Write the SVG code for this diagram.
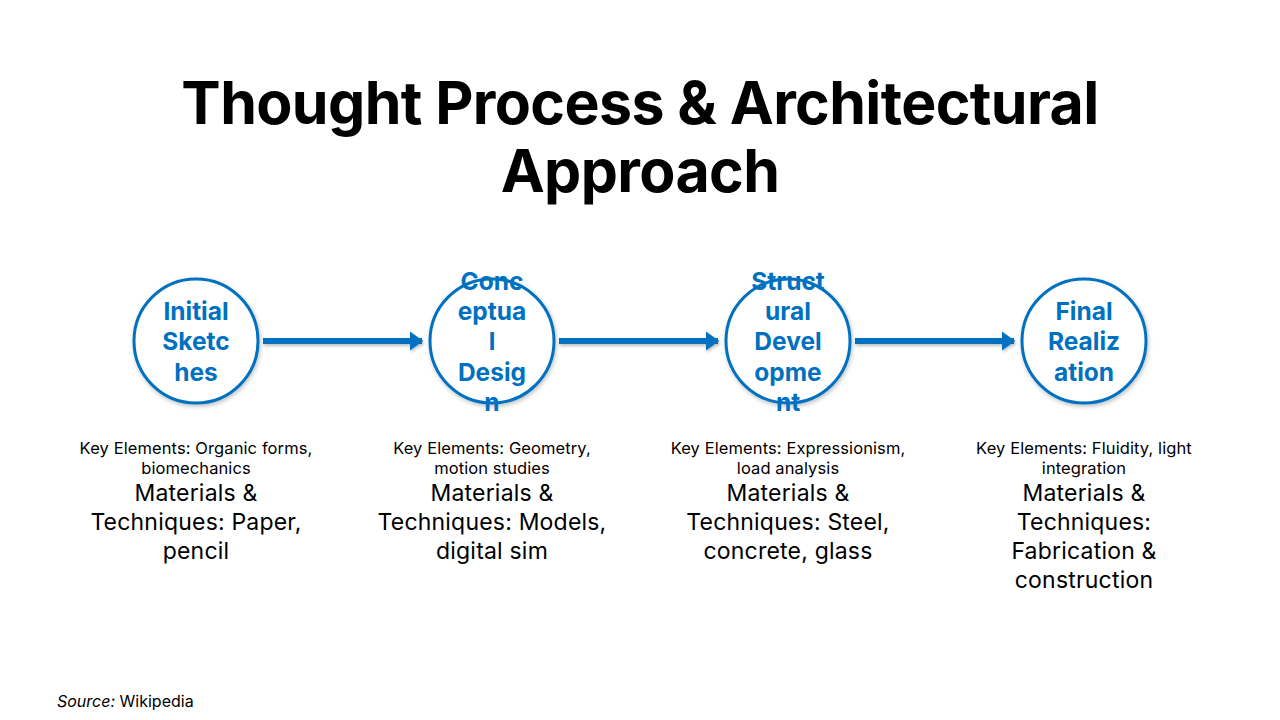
<svg xmlns="http://www.w3.org/2000/svg" width="1280" height="720" viewBox="0 0 1280 720">
<defs>
<style>
.title{font-family:Inter,"Liberation Sans",sans-serif;font-weight:700;font-size:59px;fill:#000;text-anchor:middle;letter-spacing:-0.6px}
.node circle{fill:#fff;stroke:#0070C0;stroke-width:3}
.nt{font-family:Inter,"Liberation Sans",sans-serif;font-weight:700;font-size:24.5px;fill:#0070C0;text-anchor:middle}
.ke{font-family:Inter,"Liberation Sans",sans-serif;font-size:16.5px;fill:#000;text-anchor:middle;letter-spacing:0.1px}
.mt{font-family:Inter,"Liberation Sans",sans-serif;font-size:23px;fill:#000;text-anchor:middle;letter-spacing:0.2px}
.src{font-family:Inter,"Liberation Sans",sans-serif;font-size:16px;fill:#000}
.conn line{stroke:#0070C0;stroke-width:6}
</style>
<marker id="ah" markerWidth="4" markerHeight="4" refX="2" refY="2" orient="auto" markerUnits="strokeWidth">
<path d="M0,0.4 L2.2,2 L0,3.6 Z" fill="#0070C0"/>
</marker>
<filter id="sh" x="-20%" y="-20%" width="140%" height="150%">
<feDropShadow dx="1" dy="2" stdDeviation="2" flood-color="#000" flood-opacity="0.25"/>
</filter>
<filter id="shl" filterUnits="userSpaceOnUse" x="0" y="300" width="1280" height="90">
<feDropShadow dx="1" dy="2" stdDeviation="1.5" flood-color="#000" flood-opacity="0.25"/>
</filter>
</defs>
<rect width="1280" height="720" fill="#fff"/>
<g id="title">
<text class="title" x="640" y="124">Thought Process &amp; Architectural</text>
<text class="title" x="640" y="192">Approach</text>
</g>
<g id="connectors" class="conn" filter="url(#shl)">
<line x1="263" y1="341" x2="422" y2="341" marker-end="url(#ah)"/>
<line x1="559" y1="341" x2="718" y2="341" marker-end="url(#ah)"/>
<line x1="855" y1="341" x2="1014" y2="341" marker-end="url(#ah)"/>
</g>
<g id="node1" class="node">
<circle cx="196" cy="341" r="62" filter="url(#sh)"/>
<text class="nt" x="196" y="320">Initial</text>
<text class="nt" x="196" y="350">Sketc</text>
<text class="nt" x="196" y="381">hes</text>
</g>
<g id="node2" class="node">
<circle cx="492" cy="341" r="62" filter="url(#sh)"/>
<text class="nt" x="492" y="290">Conc</text>
<text class="nt" x="492" y="320">eptua</text>
<text class="nt" x="492" y="350">l</text>
<text class="nt" x="492" y="381">Desig</text>
<text class="nt" x="492" y="411">n</text>
</g>
<g id="node3" class="node">
<circle cx="788" cy="341" r="62" filter="url(#sh)"/>
<text class="nt" x="788" y="290">Struct</text>
<text class="nt" x="788" y="320">ural</text>
<text class="nt" x="788" y="350">Devel</text>
<text class="nt" x="788" y="381">opme</text>
<text class="nt" x="788" y="411">nt</text>
</g>
<g id="node4" class="node">
<circle cx="1084" cy="341" r="62" filter="url(#sh)"/>
<text class="nt" x="1084" y="320">Final</text>
<text class="nt" x="1084" y="350">Realiz</text>
<text class="nt" x="1084" y="381">ation</text>
</g>
<g id="desc1">
<text class="ke" x="196" y="454">Key Elements: Organic forms,</text>
<text class="ke" x="196" y="474">biomechanics</text>
<text class="mt" x="196" y="501">Materials &amp;</text>
<text class="mt" x="196" y="530">Techniques: Paper,</text>
<text class="mt" x="196" y="559">pencil</text>
</g>
<g id="desc2">
<text class="ke" x="492" y="454">Key Elements: Geometry,</text>
<text class="ke" x="492" y="474">motion studies</text>
<text class="mt" x="492" y="501">Materials &amp;</text>
<text class="mt" x="492" y="530">Techniques: Models,</text>
<text class="mt" x="492" y="559">digital sim</text>
</g>
<g id="desc3">
<text class="ke" x="788" y="454">Key Elements: Expressionism,</text>
<text class="ke" x="788" y="474">load analysis</text>
<text class="mt" x="788" y="501">Materials &amp;</text>
<text class="mt" x="788" y="530">Techniques: Steel,</text>
<text class="mt" x="788" y="559">concrete, glass</text>
</g>
<g id="desc4">
<text class="ke" x="1084" y="454">Key Elements: Fluidity, light</text>
<text class="ke" x="1084" y="474">integration</text>
<text class="mt" x="1084" y="501">Materials &amp;</text>
<text class="mt" x="1084" y="530">Techniques:</text>
<text class="mt" x="1084" y="559">Fabrication &amp;</text>
<text class="mt" x="1084" y="588">construction</text>
</g>
<g id="source">
<text class="src" x="57" y="707"><tspan font-style="italic">Source:</tspan> Wikipedia</text>
</g>
</svg>
